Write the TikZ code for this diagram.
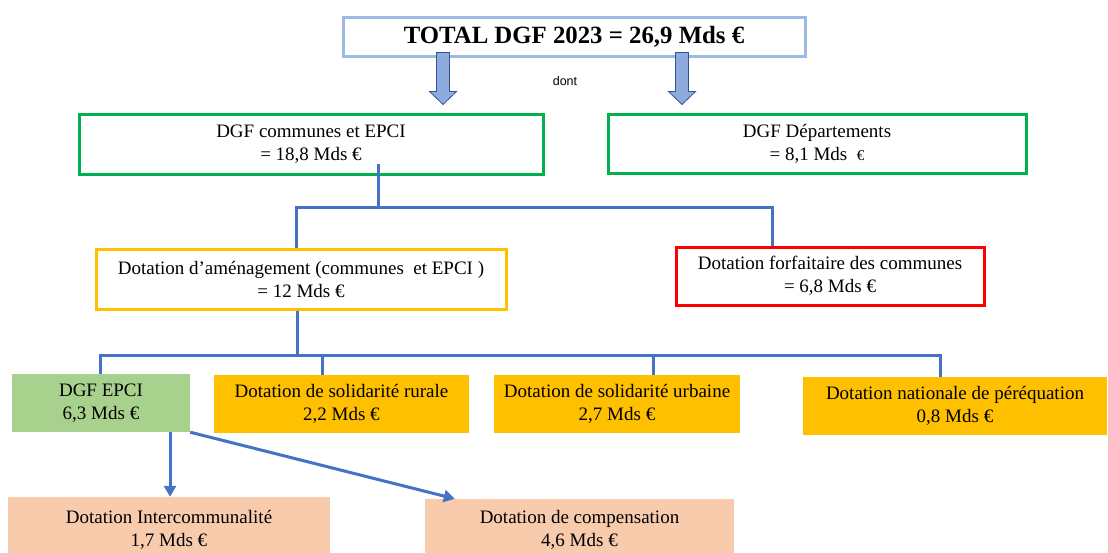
\documentclass[tikz,border=0pt]{standalone}
\usepackage{fontspec}
\setmainfont{Liberation Serif}
\setsansfont{Liberation Sans}
\usepackage{tikz}
\usetikzlibrary{arrows.meta,calc}
\definecolor{titleblue}{HTML}{9DBAE4}
\definecolor{arrowfill}{HTML}{8FAADC}
\definecolor{arrowline}{HTML}{2F5597}
\definecolor{connblue}{HTML}{4472C4}
\definecolor{dgfgreen}{HTML}{00B050}
\definecolor{amber}{HTML}{FFC000}
\definecolor{epcigreen}{HTML}{A9D18E}
\definecolor{peach}{HTML}{F8CBAD}
\newcommand{\bigarrow}[3]{%
  \path[bigarr] let \p1=(#2.south), \p2=(#3.north) in
    (#1-6.5,\y1+5pt) -- (#1+6.5,\y1+5pt) -- (#1+6.5,\y2+21pt) -- (#1+13.5,\y2+21pt)
    -- (#1,\y2+8pt) -- (#1-13.5,\y2+21pt) -- (#1-6.5,\y2+21pt) -- cycle;}
\tikzset{
  frame/.style  = {draw, line width=3pt, align=center, inner sep=0pt,
                   font=\fontsize{19}{23}\selectfont},
  tile/.style   = {fill, align=center, inner sep=0pt,
                   font=\fontsize{19}{23}\selectfont},
  bigarr/.style = {fill=arrowfill, draw=arrowline, line width=0.8pt},
  conn/.style   = {draw=connblue, line width=3pt},
  arr/.style    = {conn, -{Triangle[length=11pt, width=12pt]}},
}
\begin{document}
\begin{tikzpicture}[x=1pt, y=-1pt]
  \useasboundingbox (0,0) rectangle (1108,552);
  \node[frame, draw=titleblue, minimum width=462pt, minimum height=39pt,
        font=\fontsize{24.8}{29}\selectfont\bfseries] (total) at (574,36.5)
        {TOTAL DGF 2023 = 26,9 Mds €};
  \node[font=\sffamily\fontsize{12.5}{15}\selectfont] (dont) at (565,81) {dont};
  \node[frame, draw=dgfgreen, minimum width=464pt, minimum height=60pt] (dgfc) at (311,144)
        {DGF communes et EPCI\\ = 18,8 Mds €};
  \node[frame, draw=dgfgreen, minimum width=418pt, minimum height=59pt] (dgfd) at (817,143.5)
        {DGF Départements\\ = 8,1 Mds\ \ {\fontsize{15}{18}\selectfont €}};
  \node[frame, draw=amber, minimum width=410pt, minimum height=60pt] (dam) at (301,279)
        {Dotation d’aménagement (communes\ \ et EPCI )\\ = 12 Mds €};
  \node[frame, draw=red, minimum width=308pt, minimum height=58pt] (forf) at (830,276)
        {Dotation forfaitaire des communes\\ = 6,8 Mds €};
  \node[tile, fill=epcigreen, minimum width=178pt, minimum height=58pt] (epci) at (101,403)
        {DGF EPCI\\ 6,3 Mds €};
  \node[tile, fill=amber, minimum width=255pt, minimum height=58pt] (dsr) at (341.5,404)
        {Dotation de solidarité rurale\\ 2,2 Mds €};
  \node[tile, fill=amber, minimum width=246pt, minimum height=58pt] (dsu) at (617,404)
        {Dotation de solidarité urbaine\\ 2,7 Mds €};
  \node[tile, fill=amber, minimum width=304pt, minimum height=58pt] (dnp) at (955,406)
        {Dotation nationale de péréquation\\ 0,8 Mds €};
  \node[tile, fill=peach, minimum width=322pt, minimum height=65pt] (dint) at (169,529.5)
        {Dotation Intercommunalité\\ 1,7 Mds €};
  \node[tile, fill=peach, minimum width=309pt, minimum height=61pt] (dcomp) at (579.5,529.5)
        {Dotation de compensation\\ 4,6 Mds €};

  \bigarrow{443}{total}{dgfc}
  \bigarrow{682}{total}{dgfd}

  \coordinate (j1) at (378,207);
  \coordinate (b1l) at (296,207);
  \coordinate (b1r) at (772,207);
  \draw[conn] ($(dgfc.south -| j1)+(0,-12)$) -- (j1);
  \draw[conn] (b1l |- dam.north) |- (b1r) -- (b1r |- forf.north);

  \coordinate (j2) at (297,355);
  \coordinate (b2a) at (100,355);
  \coordinate (b2b) at (322,355);
  \coordinate (b2c) at (653,355);
  \coordinate (b2d) at (940,355);
  \draw[conn] (dam.south -| j2) -- (j2);
  \draw[conn] (b2a |- epci.north) |- (b2d) -- (b2d |- dnp.north);
  \draw[conn] (b2b) -- (b2b |- dsr.north);
  \draw[conn] (b2c) -- (b2c |- dsu.north);

  \coordinate (a3) at (170,0);
  \draw[arr] (epci.south -| a3) -- (dint.north -| a3);
  \draw[arr] (epci.south east) -- ($(dcomp.north west)+(30,0)$);
\end{tikzpicture}
\end{document}
